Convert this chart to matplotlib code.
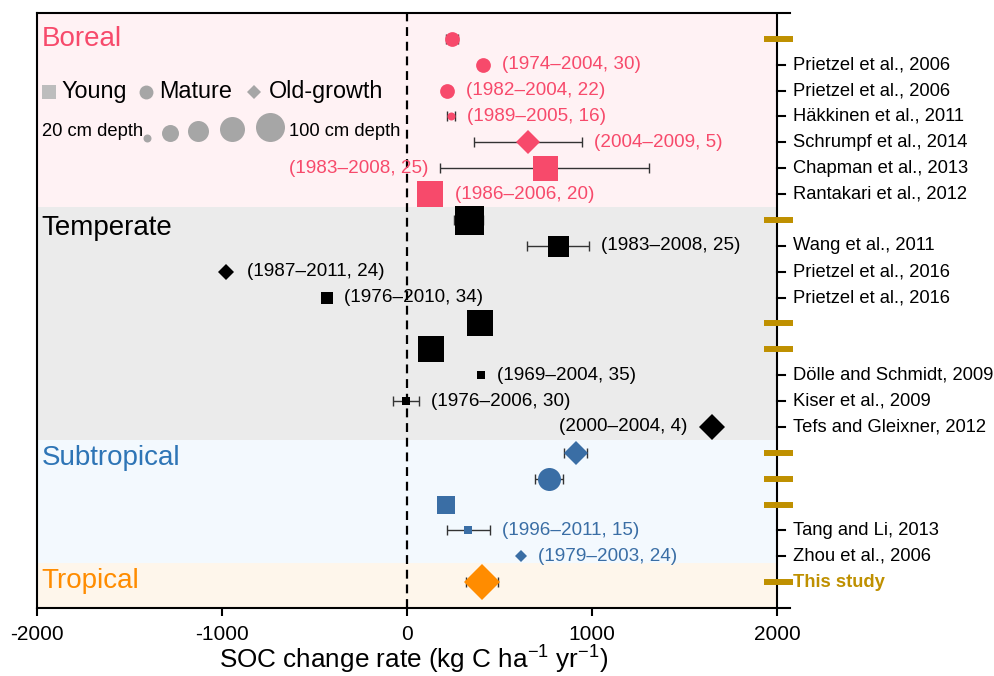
import numpy as np
import matplotlib
matplotlib.use('Agg')
from matplotlib import pyplot as plt

plt.rcParams['font.family'] = ['Liberation Sans', 'DejaVu Sans']

# one entry per row, top to bottom
biome = ['Boreal'] * 7 + ['Temperate'] * 9 + ['Subtropical'] * 5 + ['Tropical']
stage = ['Mature', 'Mature', 'Mature', 'Mature', 'Old-growth', 'Young', 'Young',
         'Young', 'Young', 'Old-growth', 'Young', 'Young', 'Young', 'Young', 'Young', 'Old-growth',
         'Old-growth', 'Mature', 'Young', 'Young', 'Old-growth',
         'Old-growth']
rate = [243, 411, 216, 238, 654, 743, 124,
        333, 816, -976, -435, 397, 131, 400, -8, 1647,
        912, 767, 211, 331, 614,
        405]
err = [32, np.nan, np.nan, 20, 292, 565, np.nan,
       80, 165, np.nan, np.nan, np.nan, np.nan, np.nan, 70, np.nan,
       62, 78, np.nan, 117, np.nan,
       86]
depth = [35, 35, 35, 20, 40, 80, 82,
         100, 60, 28, 28, 82, 82, 20, 18, 45,
         40, 70, 42, 20, 20,
         85]
periods = ['', '(1974\u20132004, 30)', '(1982\u20132004, 22)', '(1989\u20132005, 16)',
           '(2004\u20132009, 5)', '(1983\u20132008, 25)', '(1986\u20132006, 20)',
           '', '(1983\u20132008, 25)', '(1987\u20132011, 24)', '(1976\u20132010, 34)', '', '',
           '(1969\u20132004, 35)', '(1976\u20132006, 30)', '(2000\u20132004, 4)',
           '', '', '', '(1996\u20132011, 15)', '(1979\u20132003, 24)',
           '']
label_left = [6, 16]
studies = ['', 'Prietzel et al., 2006', 'Prietzel et al., 2006', 'H\u00e4kkinen et al., 2011',
           'Schrumpf et al., 2014', 'Chapman et al., 2013', 'Rantakari et al., 2012',
           '', 'Wang et al., 2011', 'Prietzel et al., 2016', 'Prietzel et al., 2016', '', '',
           'D\u00f6lle and Schmidt, 2009', 'Kiser et al., 2009', 'Tefs and Gleixner, 2012',
           '', '', '', 'Tang and Li, 2013', 'Zhou et al., 2006',
           'This study']

biomes = ['Boreal', 'Temperate', 'Subtropical', 'Tropical']
legend_stages = ['Young', 'Mature', 'Old-growth']
legend_depths = [20, 40, 60, 80, 100]

COLORS = {'Boreal': '#F74A6B', 'Temperate': '#000000',
          'Subtropical': '#3A6EA5', 'Tropical': '#FF8C00'}
TITLE_COLORS = {'Boreal': '#F74A6B', 'Temperate': '#000000',
                'Subtropical': '#2E75B6', 'Tropical': '#FF8C00'}
BANDS = {'Boreal': '#FFF2F4', 'Temperate': '#EBEBEB',
         'Subtropical': '#F3F9FE', 'Tropical': '#FEF6EB'}
BAND_EDGES = [0, 7.5, 16.5, 21.25, 23]
TITLE_Y = [1.0, 8.3, 17.2, 21.97]
SHAPES = {'Young': 's', 'Mature': 'o', 'Old-growth': 'D'}
GOLD = '#BF9000'
SIZE_PX = [8, 17, 21, 25, 29]
XMAX = 2070
NROWS = len(rate)


def msize(d):
    # marker size in points from depth
    return np.interp(d, legend_depths, SIZE_PX) * 0.72


def half_px(shape, d):
    w = np.interp(d, legend_depths, SIZE_PX)
    return w * 0.707 if shape == 'D' else w / 2


fig = plt.figure(figsize=(9.95, 6.76), dpi=100)
ax = fig.add_axes([0.0372, 0.1006, 0.7568, 0.8802])
ax.set_xlim(-2000, XMAX)
ax.set_ylim(NROWS + 1, 0)
rows = np.arange(1, NROWS + 1)

# biome bands
for k, b in enumerate(biomes):
    ax.fill_betweenx([BAND_EDGES[k], BAND_EDGES[k + 1]], -2000, 2000,
                     color=BANDS[b], lw=0, zorder=0)
    ax.text(-1975, TITLE_Y[k], b, fontsize=20, color=TITLE_COLORS[b], va='center', ha='left')

ax.axvline(0, color='k', lw=1.6, ls=(0, (4, 2.6)), zorder=1)
ax.axvline(2000, color='k', lw=1.5, zorder=4)

px_per_unit = ax.transData.transform((1, 0))[0] - ax.transData.transform((0, 0))[0]

for i in range(NROWS):
    c = COLORS[biome[i]]
    m = SHAPES[stage[i]]
    if not np.isnan(err[i]):
        ax.errorbar(rate[i], rows[i], xerr=err[i], fmt='none', ecolor='#333333',
                    elinewidth=1, capsize=3.3, capthick=1, zorder=2)
    ax.plot(rate[i], rows[i], marker=m, ms=msize(depth[i]), color=c, mew=0,
            ls='none', zorder=3)
    if periods[i]:
        e = 0 if np.isnan(err[i]) else err[i] * px_per_unit
        off = max(e, half_px(m, depth[i])) + 12
        left = rows[i] in label_left
        ax.annotate(periods[i], (rate[i], rows[i]), xytext=(-off if left else off, 0),
                    textcoords='offset pixels', ha='right' if left else 'left',
                    va='center', fontsize=13.6, color=c, zorder=5)
    # right-hand axis marks
    if studies[i] and studies[i] != 'This study':
        ax.plot([2000, 2043], [rows[i]] * 2, color='k', lw=1.5, clip_on=False, zorder=4)
        ax.annotate(studies[i], (2000, rows[i]), xytext=(16, 0), textcoords='offset pixels',
                    ha='left', va='center', fontsize=13.2, annotation_clip=False)
    else:
        ax.plot([1930, 2086], [rows[i]] * 2, color=GOLD, lw=4.3, clip_on=False,
                solid_capstyle='butt', zorder=5)
        if studies[i]:
            ax.annotate(studies[i], (2000, rows[i]), xytext=(16, 0), textcoords='offset pixels',
                        ha='left', va='center', fontsize=13.2, color=GOLD, weight='bold',
                        annotation_clip=False)

# legend: stage shapes
for s, xm, xt in zip(legend_stages, [-1935, -1411, -827], [-1866, -1341, -746]):
    ax.plot(xm, 3.05, marker=SHAPES[s], ms=10 if s != 'Old-growth' else 7.5,
            color='#BDBDBD' if s == 'Young' else '#A6A6A6', mew=0, ls='none', zorder=3)
    ax.text(xt, 3.05, s, fontsize=16.8, va='center', ha='left')

# legend: depth circles, bottom aligned
ax.text(-1973, 4.6, '20 cm depth', fontsize=13.2, va='center', ha='left')
ax.text(-638, 4.6, '100 cm depth', fontsize=13.2, va='center', ha='left')
row_px = ax.transData.transform((0, 0))[1] - ax.transData.transform((0, 1))[1]
for d, xc in zip(legend_depths, [-1407, -1281, -1130, -946, -741]):
    w = np.interp(d, legend_depths, SIZE_PX)
    ax.plot(xc, 4.98 - w / 2 / row_px, marker='o', ms=msize(d), color='#A6A6A6',
            mew=0, ls='none', zorder=3)

for side in ['left', 'top', 'bottom']:
    ax.spines[side].set_linewidth(1.5)
ax.spines['right'].set_visible(False)
ax.set_yticks([])
ax.set_xticks([-2000, -1000, 0, 1000, 2000])
ax.set_xticklabels(['-2000', '-1000', '0', '1000', '2000'])
ax.tick_params(axis='x', direction='out', length=6, width=1.5, labelsize=15, pad=6)
ax.set_xlabel('SOC change rate (kg C ha$\\mathregular{^{-1}}$ yr$\\mathregular{^{-1}}$)',
              fontsize=18.8, labelpad=0)

fig.savefig('out.png', dpi=100)
